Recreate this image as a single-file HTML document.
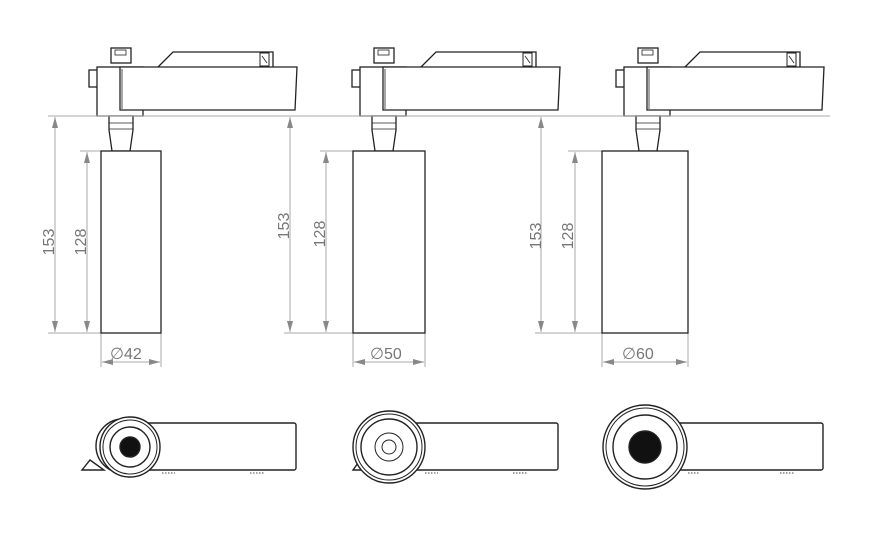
<!DOCTYPE html>
<html><head><style>body{margin:0;background:#fff}svg{display:block}text{font-family:"Liberation Sans",sans-serif;fill:#777}</style></head><body>
<svg width="877" height="533" viewBox="0 0 877 533" xmlns="http://www.w3.org/2000/svg">
<defs>
<g id="head" fill="#fff" stroke="#222" stroke-width="1.3">
  <path d="M158 67 L173 52 L273 52 L273 67"/>
  <rect x="260" y="53" width="9" height="13" stroke-width="1"/>
  <line x1="262" y1="56" x2="267" y2="63" stroke-width="0.8"/>
  <rect x="111" y="48" width="20" height="15"/>
  <rect x="115" y="50" width="11" height="5" stroke-width="0.8"/>
  <rect x="89" y="70" width="16" height="17"/>
  <rect x="100" y="67" width="20" height="9" stroke-width="0.8"/>
  <rect x="97" y="67" width="46" height="49"/>
  <path d="M120 67 L297 67 L295 110 L120 110 Z"/>
  <line x1="122" y1="109" x2="122" y2="69" stroke-width="0.8"/>
  <path d="M109 116 L133 116 L133 130 L130 151 L112 151 L109 130 Z"/>
  <line x1="109" y1="123" x2="133" y2="123" stroke-width="0.8"/>
  <line x1="109" y1="129" x2="133" y2="129" stroke-width="0.8"/>
</g>
<marker id="a" markerWidth="12" markerHeight="8" refX="11" refY="3" orient="auto-start-reverse" markerUnits="userSpaceOnUse"><path d="M0 0 L11 3 L0 6 Z" fill="#888"/></marker>
</defs>
<use href="#head"/>
<use href="#head" transform="translate(263,0)"/>
<use href="#head" transform="translate(527,0)"/>
<g stroke="#aaa" stroke-width="1" fill="none">
  <line x1="48" y1="116" x2="300" y2="116"/>
  <line x1="285" y1="116" x2="565" y2="116"/>
  <line x1="535" y1="116" x2="830" y2="116"/>
  <line x1="48" y1="333" x2="101" y2="333"/>
  <line x1="284" y1="333" x2="353" y2="333"/>
  <line x1="535" y1="333" x2="602" y2="333"/>
  <line x1="80" y1="151" x2="101" y2="151"/>
  <line x1="320" y1="151" x2="353" y2="151"/>
  <line x1="568" y1="151" x2="602" y2="151"/>
  <line x1="55" y1="332" x2="55" y2="117" marker-end="url(#a)" marker-start="url(#a)"/>
  <line x1="87" y1="332" x2="87" y2="152" marker-end="url(#a)" marker-start="url(#a)"/>
  <line x1="290" y1="332" x2="290" y2="117" marker-end="url(#a)" marker-start="url(#a)"/>
  <line x1="326" y1="332" x2="326" y2="152" marker-end="url(#a)" marker-start="url(#a)"/>
  <line x1="541" y1="332" x2="541" y2="117" marker-end="url(#a)" marker-start="url(#a)"/>
  <line x1="575" y1="332" x2="575" y2="152" marker-end="url(#a)" marker-start="url(#a)"/>
  <line x1="101" y1="333" x2="101" y2="367"/><line x1="161" y1="333" x2="161" y2="367"/>
  <line x1="353" y1="333" x2="353" y2="367"/><line x1="425" y1="333" x2="425" y2="367"/>
  <line x1="602" y1="333" x2="602" y2="367"/><line x1="688" y1="333" x2="688" y2="367"/>
  <line x1="102" y1="362" x2="160" y2="362" marker-end="url(#a)" marker-start="url(#a)"/>
  <line x1="354" y1="362" x2="424" y2="362" marker-end="url(#a)" marker-start="url(#a)"/>
  <line x1="603" y1="362" x2="687" y2="362" marker-end="url(#a)" marker-start="url(#a)"/>
</g>
<g fill="#fff" stroke="#222" stroke-width="1.3">
  <rect x="101" y="151" width="60" height="182"/>
  <rect x="353" y="151" width="72" height="182"/>
  <rect x="602" y="151" width="86" height="182"/>
</g>
<g font-size="16">
  <text transform="translate(54,242) rotate(-90)" text-anchor="middle">153</text>
  <text transform="translate(86,242) rotate(-90)" text-anchor="middle">128</text>
  <text transform="translate(289,226) rotate(-90)" text-anchor="middle">153</text>
  <text transform="translate(325,234) rotate(-90)" text-anchor="middle">128</text>
  <text transform="translate(541,236) rotate(-90)" text-anchor="middle">153</text>
  <text transform="translate(573,236) rotate(-90)" text-anchor="middle">128</text>
  <text x="110" y="359">∅42</text>
  <text x="370" y="359">∅50</text>
  <text x="622" y="359">∅60</text>
</g>
<g fill="#fff" stroke="#222" stroke-width="1.4">
  <path d="M82 470 L90 460 L104 470 Z"/>
  <rect x="130" y="423" width="166" height="47" rx="2"/>
  <circle cx="123" cy="446" r="27"/>
  <circle cx="130" cy="447" r="30"/><circle cx="130" cy="447" r="27" stroke-width="1"/>
  <circle cx="130" cy="447" r="20"/>
  <circle cx="130" cy="447" r="10" fill="#111"/>
  <path d="M353 470 L358 463 L365 470 Z"/>
  <rect x="400" y="423" width="158" height="47" rx="2"/>
  <circle cx="389" cy="447" r="36"/><circle cx="389" cy="447" r="33" stroke-width="1"/>
  <circle cx="389" cy="447" r="28"/>
  <circle cx="389" cy="447" r="14" stroke-width="1"/>
  <circle cx="389" cy="447" r="7" stroke-width="1"/>
  <rect x="660" y="423" width="163" height="47" rx="2"/>
  <circle cx="645" cy="447" r="42"/><circle cx="645" cy="447" r="39" stroke-width="1"/>
  <circle cx="645" cy="447" r="32"/>
  <circle cx="645" cy="447" r="16" fill="#111"/>
</g>
<g stroke="#444" stroke-dasharray="1.5 1.5" stroke-width="1">
  <line x1="162" y1="473" x2="175" y2="473"/><line x1="250" y1="473" x2="265" y2="473"/>
  <line x1="425" y1="473" x2="438" y2="473"/><line x1="513" y1="473" x2="528" y2="473"/>
  <line x1="688" y1="473" x2="700" y2="473"/><line x1="780" y1="473" x2="795" y2="473"/>
</g>
</svg>
</body></html>
